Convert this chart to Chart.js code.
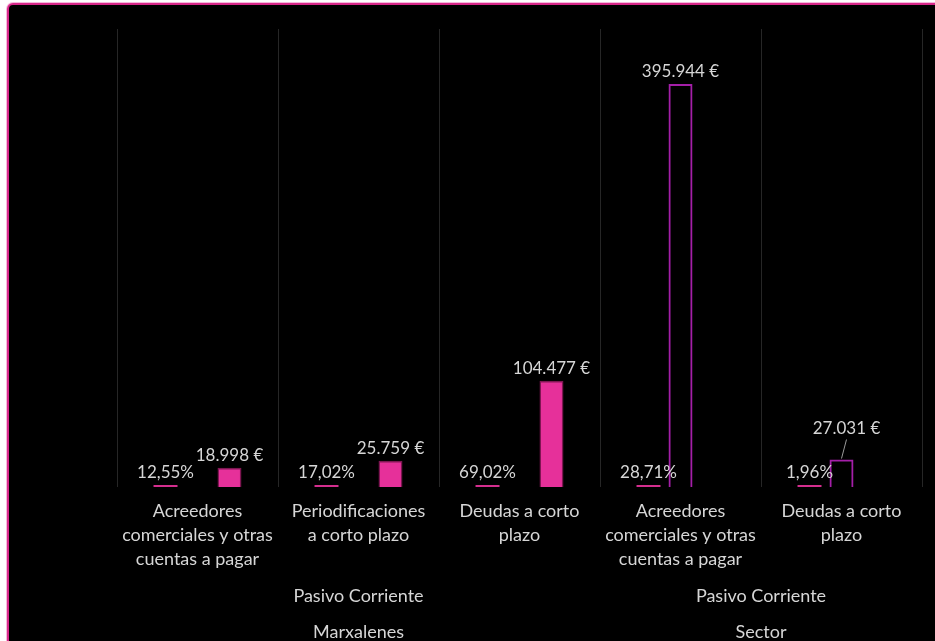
<!DOCTYPE html>
<html>
<head>
<meta charset="utf-8">
<script src="https://cdn.jsdelivr.net/npm/chart.js@4.4.1/dist/chart.umd.min.js"></script>
<style>
  html, body { margin: 0; padding: 0; background: #fff; overflow: hidden; }
  body { width: 935px; height: 641px; position: relative; }
  #frame {
    position: absolute; left: 7px; top: 3px; width: 960px; height: 680px;
    background: #000; border: 2px solid #d8288a; border-radius: 6px;
    box-shadow: 0 0 0 1px #f6b8dc;
  }
  #chart { position: absolute; left: 0; top: 0; }
</style>
</head>
<body>
<div id="frame"></div>
<canvas id="chart" width="935" height="641"></canvas>
<script>
// Categories of current liabilities, grouped by company and by subgroup
const categories = [
  ['Acreedores', 'comerciales y otras', 'cuentas a pagar'],
  ['Periodificaciones', 'a corto plazo'],
  ['Deudas a corto', 'plazo'],
  ['Acreedores', 'comerciales y otras', 'cuentas a pagar'],
  ['Deudas a corto', 'plazo']
];
const subgroups = ['Pasivo Corriente', 'Pasivo Corriente'];
const groups = ['Marxalenes', 'Sector'];
const groupOf = [0, 0, 0, 1, 1];

// Share of current liabilities (%)
const shares = [12.55, 17.02, 69.02, 28.71, 1.96];
// Amounts (€) for the sector and for Marxalenes
const sectorAmounts = [null, null, null, 395944, 27031];
const marxalenesAmounts = [18998, 25759, 104477, null, null];

const FONT = 'Lato, "Open Sans", sans-serif';
const TEXT = '#d6d6d6';

const fmtPct = v => v.toFixed(2).replace('.', ',') + '%';
const fmtEur = v => v.toLocaleString('de-DE') + ' €';

// Label nudges (dataset index -> category index -> offset) for crowded labels
const labelNudge = { 1: { 4: { dx: 5, dy: -19 } } };

const barLabels = {
  id: 'barLabels',
  afterDatasetsDraw(chart) {
    const ctx = chart.ctx;
    ctx.save();
    ctx.font = '17px ' + FONT;
    ctx.fillStyle = TEXT;
    ctx.textAlign = 'center';
    ctx.textBaseline = 'alphabetic';
    chart.data.datasets.forEach((ds, di) => {
      const meta = chart.getDatasetMeta(di);
      meta.data.forEach((bar, i) => {
        const v = ds.data[i];
        if (v === null || v === undefined) return;
        const txt = di === 0 ? fmtPct(v) : fmtEur(v);
        let x = bar.x, y = bar.y - 7;
        const n = labelNudge[di] && labelNudge[di][i];
        if (n) {
          x += n.dx; y += n.dy;
          ctx.strokeStyle = '#9a9a9a';
          ctx.lineWidth = 1;
          ctx.beginPath();
          ctx.moveTo(x, y + 6);
          ctx.lineTo(bar.x, bar.y - 1);
          ctx.stroke();
        }
        ctx.fillText(txt, x, y);
      });
    });

    // Subgroup and group labels centred under their categories
    const xs = chart.scales.x;
    const half = (xs.getPixelForValue(1) - xs.getPixelForValue(0)) / 2;
    ctx.font = '18px ' + FONT;
    ctx.textBaseline = 'middle';
    groups.forEach((g, gi) => {
      const idx = groupOf.map((v, i) => v === gi ? i : -1).filter(i => i >= 0);
      const left = xs.getPixelForValue(idx[0]) - half;
      const right = xs.getPixelForValue(idx[idx.length - 1]) + half;
      const cx = (left + right) / 2;
      ctx.fillText(subgroups[gi], cx, 596);
      ctx.fillText(g, cx, 632);
    });
    ctx.restore();
  }
};

const common = { categoryPercentage: 0.596, barPercentage: 0.75, skipNull: false };

new Chart(document.getElementById('chart'), {
  type: 'bar',
  data: {
    labels: categories,
    datasets: [
      Object.assign({
        label: '%',
        data: shares,
        backgroundColor: '#d42e8e',
        borderWidth: 0,
        minBarLength: 2
      }, common),
      Object.assign({
        label: 'Sector',
        data: sectorAmounts,
        backgroundColor: 'rgba(0,0,0,0)',
        borderColor: '#a41fa8',
        borderWidth: 2
      }, common),
      Object.assign({
        label: 'Marxalenes',
        data: marxalenesAmounts,
        backgroundColor: '#e6309a',
        borderColor: '#7e1652',
        borderWidth: 1.5
      }, common)
    ]
  },
  options: {
    responsive: false,
    animation: false,
    devicePixelRatio: 1,
    layout: { padding: { left: 117, right: 13, top: 29, bottom: 58 } },
    plugins: { legend: { display: false }, tooltip: { enabled: false } },
    scales: {
      x: {
        offset: true,
        grid: { color: '#262626', offset: true, drawTicks: false, lineWidth: 1 },
        border: { display: false },
        ticks: {
          color: TEXT,
          font: { family: FONT, size: 18, lineHeight: 1.333 },
          padding: 12,
          maxRotation: 0,
          autoSkip: false
        }
      },
      y: { display: false, min: 0, max: 450000 }
    }
  },
  plugins: [barLabels]
});
</script>
</body>
</html>
